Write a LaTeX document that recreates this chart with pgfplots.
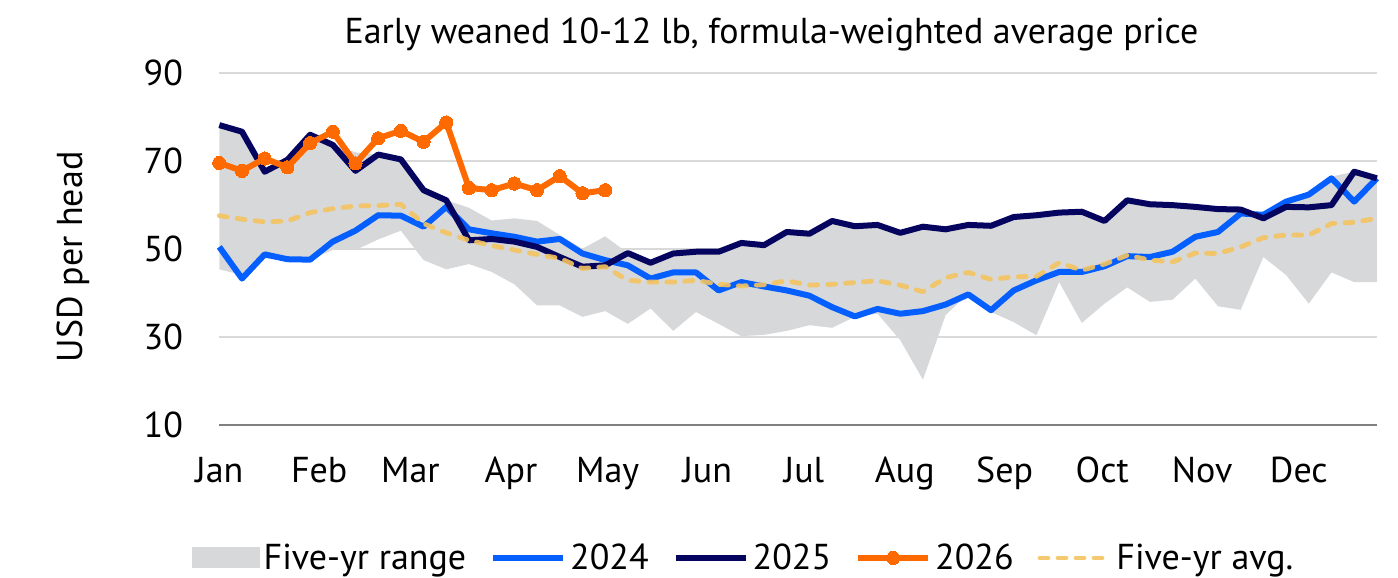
\documentclass[border=0pt]{standalone}
\usepackage{fontspec}
\setmainfont{PT Sans}
\usepackage{pgfplots}
\pgfplotsset{compat=1.18}
\usepackage{pgfplotstable}
\usepgfplotslibrary{fillbetween}
\definecolor{rangegray}{RGB}{215,216,218}
\definecolor{c2024}{RGB}{5,95,255}
\definecolor{c2025}{RGB}{5,5,95}
\definecolor{c2026}{RGB}{255,106,0}
\definecolor{cavg}{RGB}{244,195,95}
\definecolor{gridgray}{RGB}{217,217,217}
\definecolor{axisgray}{RGB}{128,128,128}

\pgfplotstableread{
w lo up
0 45.4 78.2
1 44.1 76.7
2 47.9 68.5
3 47.7 70.5
4 47.6 76.0
5 49.8 73.7
6 49.8 72.0
7 52.2 71.5
8 54.2 70.4
9 47.5 63.4
10 45.4 61.1
11 46.6 59.4
12 44.8 56.5
13 42.0 57.0
14 37.2 56.4
15 37.2 53.2
16 34.6 50.1
17 35.9 52.9
18 33.0 49.1
19 36.5 46.9
20 31.4 49.0
21 35.7 49.4
22 33.0 49.4
23 30.2 51.4
24 30.5 50.9
25 31.4 53.9
26 32.7 53.5
27 32.1 56.4
28 34.6 55.2
29 35.3 55.5
30 29.3 53.7
31 20.3 55.1
32 35.0 54.5
33 39.9 55.5
34 35.7 55.3
35 33.4 57.3
36 30.4 57.7
37 42.5 58.3
38 33.2 58.5
39 37.6 56.4
40 41.3 61.1
41 38.0 60.2
42 38.5 60.0
43 43.3 59.6
44 37.0 59.1
45 36.2 59.0
46 48.2 57.8
47 44.1 60.8
48 37.6 62.4
49 44.7 66.5
50 42.5 67.6
51 42.5 66.1
}\rangetab

\pgfplotstableread{
w v
0 50.5
1 43.3
2 48.8
3 47.7
4 47.6
5 51.7
6 54.2
7 57.7
8 57.6
9 55.1
10 59.6
11 54.5
12 53.6
13 52.8
14 51.7
15 52.3
16 49.0
17 47.5
18 46.3
19 43.3
20 44.7
21 44.7
22 40.6
23 42.5
24 41.5
25 40.6
26 39.4
27 36.8
28 34.7
29 36.4
30 35.3
31 35.9
32 37.4
33 39.7
34 36.1
35 40.6
36 42.9
37 44.8
38 44.8
39 46.1
40 48.4
41 48.2
42 49.4
43 52.8
44 53.9
45 58.1
46 57.8
47 60.8
48 62.4
49 66.1
50 60.8
51 66.1
}\tabA

\pgfplotstableread{
w v
0 78.2
1 76.7
2 67.6
3 70.3
4 76.0
5 73.7
6 67.8
7 71.5
8 70.4
9 63.4
10 61.1
11 52.0
12 52.3
13 51.7
14 50.5
15 48.2
16 46.0
17 46.3
18 49.1
19 46.9
20 49.0
21 49.4
22 49.4
23 51.4
24 50.9
25 53.9
26 53.5
27 56.4
28 55.2
29 55.5
30 53.7
31 55.1
32 54.5
33 55.5
34 55.3
35 57.3
36 57.7
37 58.3
38 58.5
39 56.4
40 61.1
41 60.2
42 60.0
43 59.6
44 59.1
45 59.0
46 57.0
47 59.6
48 59.5
49 60.0
50 67.6
51 66.1
}\tabB

\pgfplotstableread{
w v
0 69.6
1 67.8
2 70.6
3 68.6
4 74.1
5 76.7
6 69.5
7 75.2
8 76.9
9 74.4
10 78.8
11 63.9
12 63.4
13 64.9
14 63.4
15 66.6
16 62.7
17 63.4
}\tabC

\pgfplotstableread{
w v
0 57.6
1 56.8
2 56.2
3 56.4
4 58.3
5 59.2
6 59.8
7 59.9
8 60.2
9 55.8
10 53.7
11 52.0
12 50.8
13 49.8
14 48.8
15 47.9
16 45.6
17 46.0
18 42.9
19 42.5
20 42.5
21 42.9
22 42.0
23 41.6
24 41.9
25 42.8
26 41.8
27 42.0
28 42.4
29 42.8
30 41.8
31 40.3
32 43.5
33 44.7
34 43.1
35 43.7
36 43.8
37 46.9
38 45.2
39 46.6
40 48.6
41 47.5
42 47.1
43 49.1
44 49.0
45 50.5
46 52.6
47 53.2
48 53.2
49 55.8
50 56.1
51 57.0
}\tabAvg

\begin{document}
\begin{tikzpicture}
\begin{axis}[
  at={(0,0)}, anchor=south west,
  scale only axis,
  width=578.8pt, height=175.9pt,
  xmin=0, xmax=51, ymin=10, ymax=90,
  clip=false,
  font=\fontsize{18}{21}\selectfont,
  /pgf/number format/assume math mode=true,
  axis x line*=bottom, axis y line*=left,
  x axis line style={draw=axisgray, line width=1pt, -},
  y axis line style={draw=none},
  major tick length=0pt,
  ytick={10,30,50,70,90},
  ymajorgrids, grid style={gridgray, line width=0.8pt},
  xtick={0,4.4,8.42,12.85,17.11,21.5,25.76,30.2,34.6,38.9,43.3,47.56},
  xticklabels={Jan,Feb,Mar,Apr,May,Jun,Jul,Aug,Sep,Oct,Nov,Dec},
  xticklabel style={anchor=base, yshift=-29pt},
  yticklabel style={anchor=east, inner sep=0pt, xshift=-18pt},
  ylabel={USD per head},
  ylabel style={at={(axis description cs:-0.1183,0.478)}, anchor=base},
  title={Early weaned 10-12 lb, formula-weighted average price},
  title style={at={(axis description cs:0.477,1)}, anchor=base, yshift=9pt},
  legend columns=-1,
  legend cell align=left,
  legend style={at={(axis description cs:-0.0242,-0.378)}, anchor=west, draw=none, fill=none, inner sep=0pt,
    /tikz/every even column/.append style={column sep=10pt},
    font=\fontsize{18}{21}\selectfont},
  legend image code/.code={\draw[mark repeat=2,mark phase=2,#1] plot coordinates {(0pt,0pt) (17.5pt,0pt) (35pt,0pt)};},
  line join=round,
]
\addplot[name path=up, draw=none, forget plot] table[x=w,y=up]{\rangetab};
\addplot[name path=lo, draw=none, forget plot] table[x=w,y=lo]{\rangetab};
\addplot[fill=rangegray, draw=none,
  legend image code/.code={\fill[rangegray] (0pt,-5.25pt) rectangle (34pt,5.25pt);}]
  fill between[of=up and lo];
\addlegendentry{Five-yr range}
\addplot[c2024, line width=3pt, no marks] table[x=w,y=v]{\tabA};
\addlegendentry{2024}
\addplot[c2025, line width=3pt, no marks] table[x=w,y=v]{\tabB};
\addlegendentry{2025}
\addplot[c2026, line width=3pt, mark=*, mark size=3.3pt, mark options={fill=c2026, draw=c2026, line width=0pt}] table[x=w,y=v]{\tabC};
\addlegendentry{2026}
\addplot[cavg, opacity=0.9, line width=2.4pt, line cap=round, dash pattern=on 4pt off 5pt, no marks] table[x=w,y=v]{\tabAvg};
\addlegendentry{Five-yr avg.}
\end{axis}
\pgfresetboundingbox
\path[use as bounding box] (-109.65pt,-76.5pt) rectangle (589.35pt,212.5pt);
\end{tikzpicture}
\end{document}
